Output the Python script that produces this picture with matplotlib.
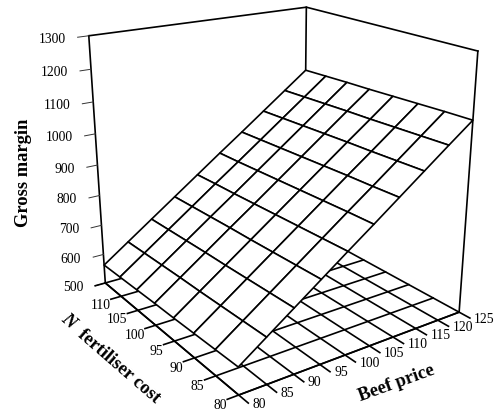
import numpy as np
import matplotlib
matplotlib.use("Agg")
import matplotlib.pyplot as plt
from mpl_toolkits.mplot3d import proj3d

plt.rcParams['font.family'] = ['Liberation Serif', 'DejaVu Serif']

beef_price = [80, 85, 90, 95, 100, 105, 110, 115, 120, 125]
n_cost = [80, 85, 90, 95, 100, 105, 110, 115]
n_cost_labels = [80, 85, 90, 95, 100, 105, 110]
margin_ticks = [500, 600, 700, 800, 900, 1000, 1100, 1200, 1300]

# one row per N cost, one column per beef price
gross_margin = [
    [583, 641, 699, 757, 815, 872, 930, 988, 1046, 1103],
    [580, 638, 696, 754, 812, 870, 927, 985, 1043, 1101],
    [577, 635, 693, 751, 809, 867, 925, 982, 1040, 1098],
    [574, 632, 690, 748, 806, 864, 922, 980, 1037, 1095],
    [572, 630, 688, 746, 803, 861, 919, 977, 1035, 1092],
    [569, 627, 685, 743, 800, 858, 916, 974, 1032, 1090],
    [566, 624, 682, 740, 798, 855, 913, 971, 1029, 1087],
    [563, 621, 679, 737, 795, 853, 910, 968, 1026, 1084],
]

W, H = 498, 412
LW = 1.2
TICK = 2.0


def px_text(x, y, s, **kw):
    # place text by pixel position of the picture
    fig.text(x / W, 1 - y / H, s, ha='center', va='center', color='black',
             rotation_mode='anchor', **kw)


def tick_label(x, y, z, s, dx, dy, ha, va):
    # label sits at a pixel offset from the projected tick end
    xp, yp, _ = proj3d.proj_transform(x, y, z, ax.get_proj())
    ax.annotate(s, xy=(float(xp), float(yp)), xytext=(dx, dy), textcoords='offset pixels',
                ha=ha, va=va, fontsize=9.8, annotation_clip=False, zorder=5)


fig = plt.figure(figsize=(W / 100, H / 100), dpi=100)
ax = fig.add_axes([46.06 / W, 5.03 / H, 449.5 / W, 449.5 / H], projection='3d',
                  computed_zorder=False)
ax.set_xlim(beef_price[0], beef_price[-1])
ax.set_ylim(n_cost[0], n_cost[-1])
ax.set_zlim(margin_ticks[0], margin_ticks[-1])
ax.view_init(elev=20.2307, azim=-124.8291)
ax.set_proj_type('persp', focal_length=0.4059)
ax.set_box_aspect((0.9851, 0.9846, 1.0))
ax.set_axis_off()

x0, x1 = beef_price[0], beef_price[-1]
y0, y1 = n_cost[0], n_cost[-1]
z0, z1 = margin_ticks[0], margin_ticks[-1]

# walls
ax.plot([x0, x1, x1], [y1, y1, y0], [z1, z1, z1], color='k', lw=LW, zorder=1)
for xw, yw in [(x0, y1), (x1, y1), (x1, y0)]:
    ax.plot([xw, xw], [yw, yw], [z0, z1], color='k', lw=LW, zorder=1)

# floor grid, running on past the front edges as the ticks
for b in beef_price:
    ax.plot([b, b], [y0 - TICK, y1], [z0, z0], color='k', lw=LW, zorder=2)
for c in n_cost:
    ax.plot([x0 - TICK, x1], [c, c], [z0, z0], color='k', lw=LW, zorder=2)
ax.plot([x0, x0], [y0, y1], [z0, z0], color='k', lw=LW, zorder=2)
ax.plot([x0, x1], [y0, y0], [z0, z0], color='k', lw=LW, zorder=2)

# surface hides what lies behind it
X, Y = np.meshgrid(beef_price, n_cost)
ax.plot_surface(X, Y, np.array(gross_margin, dtype=float), rstride=1, cstride=1,
                color='white', edgecolor='k', linewidth=LW, shade=False, zorder=3)

# margin ticks
for m in margin_ticks:
    ax.plot([x0 - TICK, x0], [y1, y1], [m, m], color='#333333', lw=0.7, zorder=1)
    tick_label(x0 - TICK, y1, m, str(m), -12, -2, 'right', 'center')

for b in beef_price:
    tick_label(b, y0 - TICK, z0, str(b), 4, -1, 'left', 'center')
for c in n_cost_labels:
    tick_label(x0 - TICK, c, z0, str(c), 0, 0, 'right', 'top')

px_text(23.5, 173, 'Gross margin', rotation=90, fontsize=13.3, fontweight='bold')
px_text(68, 321, 'N', rotation=-41, fontsize=13.3, fontweight='bold', fontstyle='italic')
px_text(118.5, 366, 'fertiliser cost', rotation=-41, fontsize=13.3, fontweight='bold')
px_text(397, 383, 'Beef price', rotation=20, fontsize=13.3, fontweight='bold')

fig.savefig("out.png", dpi=100)
